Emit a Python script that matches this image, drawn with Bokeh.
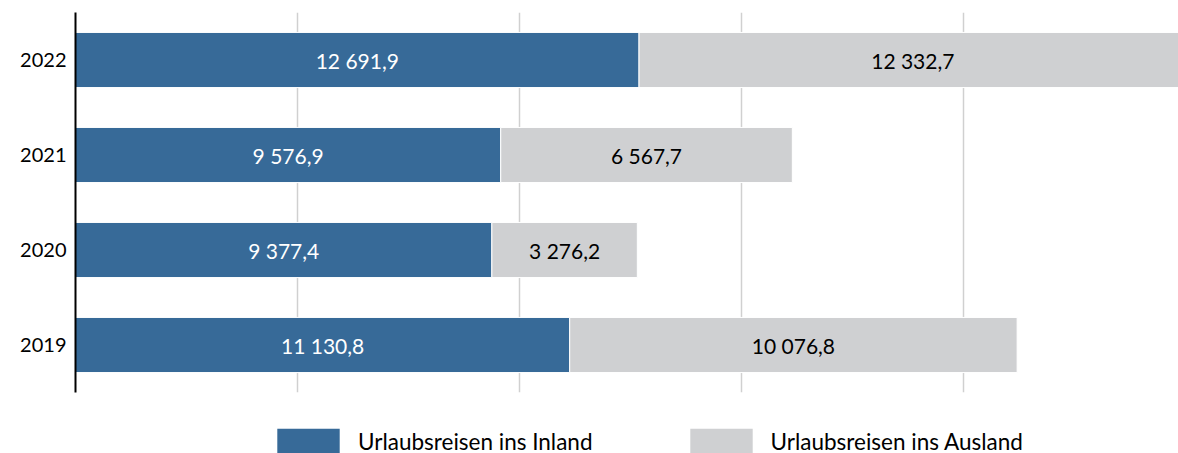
from bokeh.plotting import figure
from bokeh.layouts import column
from bokeh.models import ColumnDataSource, Legend, LegendItem, FixedTicker, Range1d
from bokeh.core.properties import value
from bokeh.embed import file_html
from bokeh.resources import INLINE

years = ["2019", "2020", "2021", "2022"]
inland = [11130.8, 9377.4, 9576.9, 12691.9]
ausland = [10076.8, 3276.2, 6567.7, 12332.7]
series_names = ["Urlaubsreisen ins Inland", "Urlaubsreisen ins Ausland"]
grid_ticks = [5000, 10000, 15000, 20000, 25000]

BLUE = "#376a98"
GRAY = "#cfd0d2"
FONT = "Lato"

def fmt(v):
    s = f"{v:,.1f}"
    return s.replace(",", " ").replace(".", ",")

total = [a + b for a, b in zip(inland, ausland)]
src = ColumnDataSource(dict(
    year=years,
    inland=inland,
    ausland=ausland,
    total=total,
    zero=[0] * len(years),
    in_mid=[v / 2 for v in inland],
    aus_mid=[a + b / 2 for a, b in zip(inland, ausland)],
    in_lbl=[fmt(v) for v in inland],
    aus_lbl=[fmt(v) for v in ausland],
))

p = figure(
    width=1178, height=400,
    y_range=years, x_range=(0, 24842),
    output_backend="svg", toolbar_location=None,
    min_border_left=75, min_border_right=0, min_border_top=12, min_border_bottom=8,
)
p.y_range.range_padding = 0
p.outline_line_color = None

p.hbar(y="year", left="zero", right="inland", height=0.58, source=src,
       fill_color=BLUE, line_color="white", line_width=1)
p.hbar(y="year", left="inland", right="total", height=0.58, source=src,
       fill_color=GRAY, line_color="white", line_width=1)

p.text(x="in_mid", y="year", text="in_lbl", source=src, text_align="center",
       text_baseline="middle", text_color="white", text_font=value(FONT),
       text_font_size="21px")
p.text(x="aus_mid", y="year", text="aus_lbl", source=src, text_align="center",
       text_baseline="middle", text_color="black", text_font=value(FONT),
       text_font_size="21px")

p.xaxis.visible = False
p.xgrid.ticker = FixedTicker(ticks=grid_ticks)
p.xgrid.grid_line_color = "#d0d0d0"
p.xgrid.grid_line_width = 1.5
p.ygrid.grid_line_color = None

ya = p.yaxis[0]
ya.axis_line_color = "black"
ya.axis_line_width = 2
ya.major_tick_line_color = None
ya.minor_tick_line_color = None
ya.major_label_text_font = FONT
ya.major_label_text_font_size = "20px"
ya.major_label_text_color = "black"
ya.major_label_standoff = 3

# legend strip (its frame is aligned with the main frame by the column layout)
lg = figure(
    width=1178, height=53, x_range=Range1d(0, 1), y_range=Range1d(0, 1),
    output_backend="svg", toolbar_location=None,
    x_axis_type=None, y_axis_type=None,
    min_border_left=0, min_border_right=0, min_border_top=0, min_border_bottom=0,
)
lg.outline_line_color = None
lg.xgrid.visible = False
lg.ygrid.visible = False
# proxy bars kept outside the visible range, only used for the legend swatches
proxy = ColumnDataSource(dict(y=[-10], l=[0], r=[1]))
d1 = lg.hbar(y="y", left="l", right="r", height=1, source=proxy,
             fill_color=BLUE, line_color=None)
d2 = lg.hbar(y="y", left="l", right="r", height=1, source=proxy,
             fill_color=GRAY, line_color=None)

legend = Legend(
    items=[LegendItem(label=series_names[0], renderers=[d1]),
           LegendItem(label=series_names[1], renderers=[d2])],
    orientation="horizontal",
    location=(194, -4),
    glyph_width=78, glyph_height=32,
    label_standoff=11, spacing=89,
    label_text_font=FONT, label_text_font_size="22.5px",
    label_text_color="black",
    border_line_color=None, background_fill_alpha=0,
    padding=0, margin=0, label_height=32,
)
lg.add_layout(legend, "center")

layout = column(p, lg, spacing=0)
open("out.html", "w").write(file_html(layout, INLINE))
